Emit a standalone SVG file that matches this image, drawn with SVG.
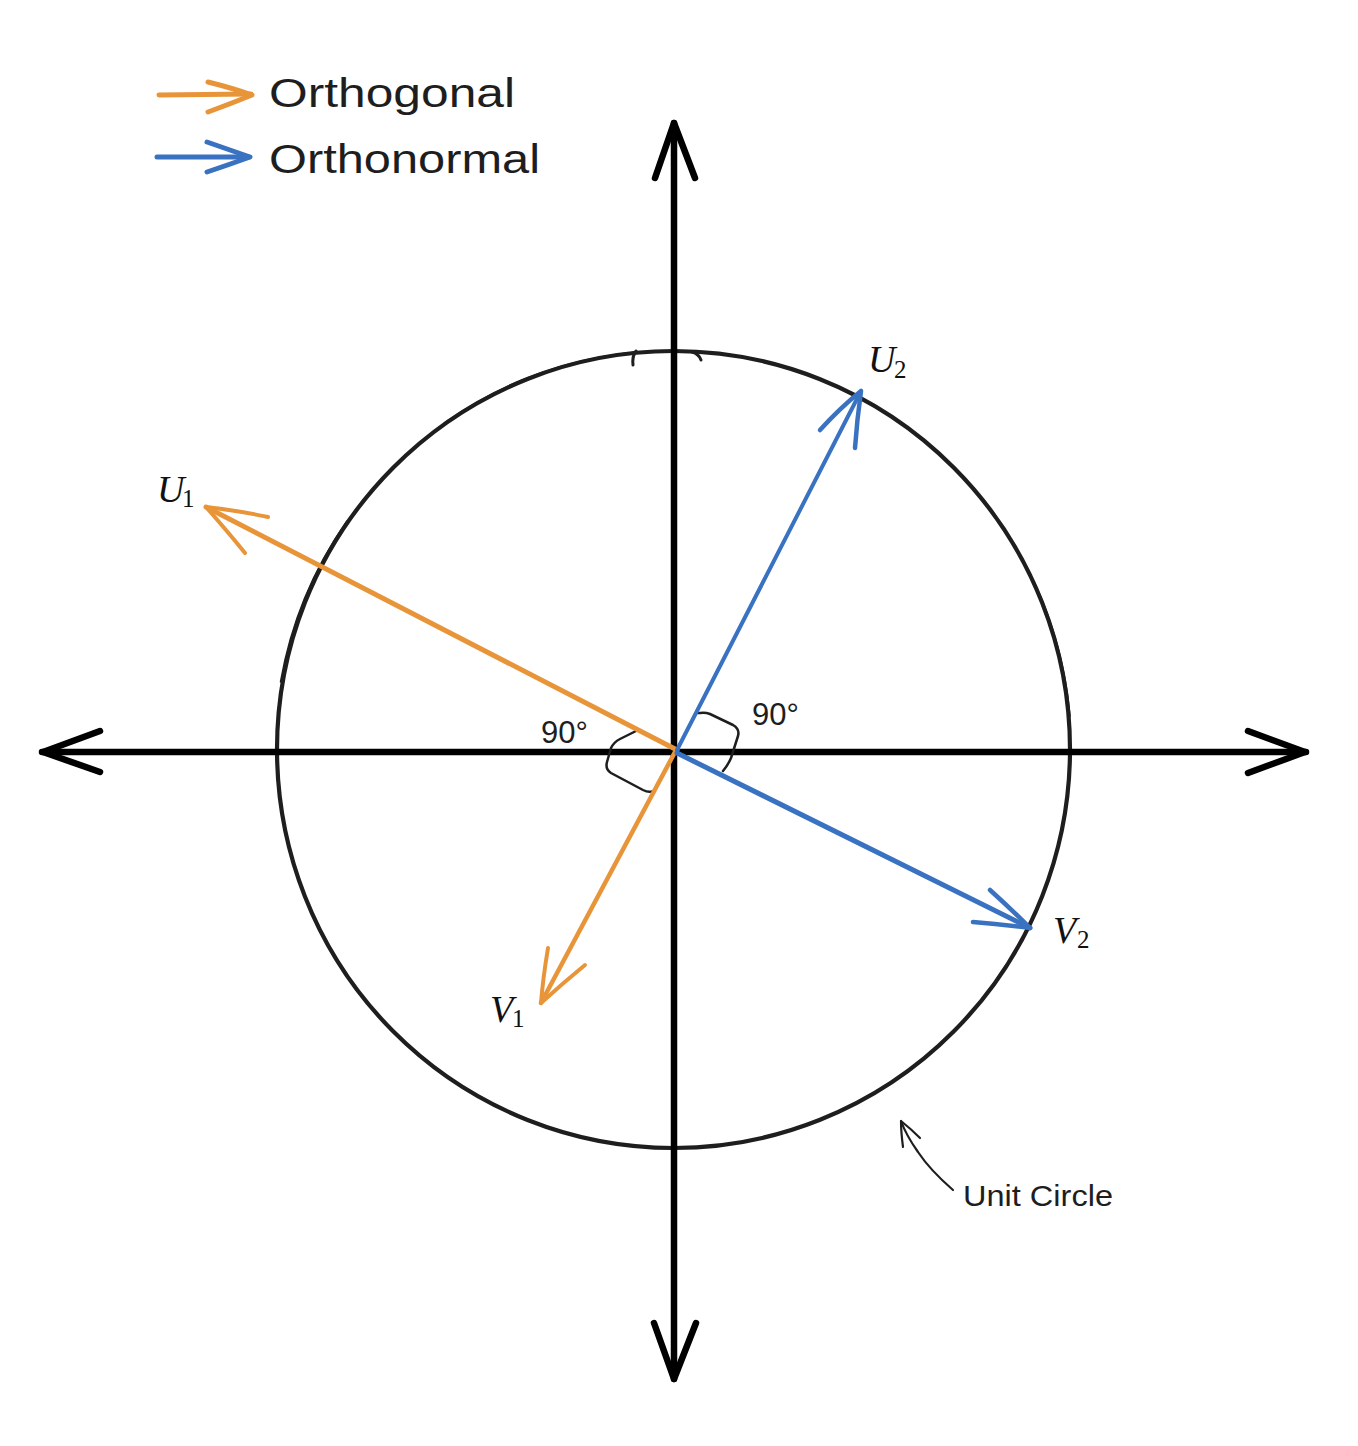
<svg xmlns="http://www.w3.org/2000/svg" width="1358" height="1446" viewBox="0 0 1358 1446">
<style>
.ink{fill:none;stroke:#1e1e1e;stroke-linecap:round;stroke-linejoin:round}
.axis{fill:none;stroke:#000;stroke-width:6.5;stroke-linecap:round;stroke-linejoin:round}
.orange{fill:none;stroke:#e8953a;stroke-linecap:round;stroke-linejoin:round}
.blue{fill:none;stroke:#3a72c2;stroke-linecap:round;stroke-linejoin:round}
.hand{font-family:"Liberation Sans","DejaVu Sans",sans-serif;fill:#1e1e1e}
.math{font-family:"Liberation Serif","DejaVu Serif",serif;fill:#111}
</style>
<rect width="1358" height="1446" fill="#fff"/>

<g id="unit-circle">
  <ellipse class="ink" cx="673.5" cy="749.5" rx="396.5" ry="398.5" stroke-width="4.2"/>
  <path class="ink" stroke-width="2.5" d="M444.7 423.3 A398 400 0 0 1 638.3 352.5"/>
  <path class="ink" stroke-width="2.5" d="M281 681.6 A398 400 0 0 1 347 521.6"/>
  <path class="ink" stroke-width="2.5" d="M1033.7 582 A398 400 0 0 1 1069.5 716.1"/>
  <path class="ink" stroke-width="3" d="M636 351 Q632 356 633 365"/>
  <path class="ink" stroke-width="3" d="M692 352 Q699 354 701 360"/>
</g>

<g id="axes">
  <path class="axis" d="M42 752 L1306 752"/>
  <path class="axis" d="M100 731 L43 752 L100 772"/>
  <path class="axis" d="M1248 731 L1305 752 L1248 773"/>
  <path class="axis" d="M674 123 L674 1379"/>
  <path class="axis" d="M655 178 L674 123 L695 178"/>
  <path class="axis" d="M654 1323 L674 1379 L696 1323"/>
</g>

<g id="right-angle-marks">
  <path class="ink" stroke-width="2.5" d="M636 731 L620 739 Q614 742 611 748 L607 762 Q605 769 611 773 L643 790 Q649 793 653 791"/>
  <path class="ink" stroke-width="2.5" d="M697 713 L700 713 Q705 712 710 714 L733 725 Q740 729 738 736 L731 758 Q728 765 723 771"/>
</g>

<g id="connectors">
  <g id="vec-u1">
    <path class="orange" stroke-width="5" d="M677 750 L206 507"/>
    <path class="orange" stroke-width="4" d="M268 517 Q235 510 206 507 Q228 532 245 553"/>
  </g>
  <g id="vec-v1">
    <path class="orange" stroke-width="4.5" d="M675 752 L541 1003"/>
    <path class="orange" stroke-width="4" d="M548 948 Q543 978 541 1003 Q563 983 585 965"/>
  </g>
  <g id="vec-u2">
    <path class="blue" stroke-width="4" d="M677 750 L861 391"/>
    <path class="blue" stroke-width="4.5" d="M820 430 Q840 408 861 391 Q857 420 855 448"/>
  </g>
  <g id="vec-v2">
    <path class="blue" stroke-width="5" d="M677 753 L1030 928"/>
    <path class="blue" stroke-width="4.5" d="M990 890 Q1010 908 1030 928 Q1000 924 973 922"/>
  </g>
  <g id="unit-circle-pointer">
    <path class="ink" stroke-width="2.2" d="M953 1190 Q930 1170 918 1152 Q906 1135 901 1121"/>
    <path class="ink" stroke-width="2.2" d="M903 1147 Q901 1132 901 1121 Q911 1129 920 1138"/>
  </g>
</g>

<g id="labels">
  <g id="label-u1"><text class="math" x="157" y="502" font-size="38" font-style="italic">U</text><text class="math" x="182" y="507" font-size="25">1</text></g>
  <g id="label-v1"><text class="math" x="490" y="1022" font-size="38" font-style="italic">V</text><text class="math" x="512" y="1027" font-size="25">1</text></g>
  <g id="label-u2"><text class="math" x="868" y="372" font-size="38" font-style="italic">U</text><text class="math" x="894" y="378" font-size="25">2</text></g>
  <g id="label-v2"><text class="math" x="1053" y="943" font-size="38" font-style="italic">V</text><text class="math" x="1077" y="948" font-size="25">2</text></g>
  <g id="angle-left"><text class="hand" x="541" y="743" font-size="31">90°</text></g>
  <g id="angle-right"><text class="hand" x="752" y="725" font-size="31">90°</text></g>
  <g id="label-unit-circle"><text class="hand" x="963" y="1206" font-size="29" textLength="150" lengthAdjust="spacingAndGlyphs">Unit Circle</text></g>
</g>

<g id="legend">
  <g id="legend-orthogonal">
    <path class="orange" stroke-width="5" d="M159 95 L251 94"/>
    <path class="orange" stroke-width="5" d="M208 82 Q232 88 252 95 Q230 104 208 112"/>
    <text class="hand" x="269" y="107" font-size="41" textLength="246" lengthAdjust="spacingAndGlyphs">Orthogonal</text>
  </g>
  <g id="legend-orthonormal">
    <path class="blue" stroke-width="5" d="M157 157 L249 157"/>
    <path class="blue" stroke-width="5" d="M207 142 Q230 150 250 157 Q228 165 207 172"/>
    <text class="hand" x="269" y="173" font-size="41" textLength="271" lengthAdjust="spacingAndGlyphs">Orthonormal</text>
  </g>
</g>
</svg>
